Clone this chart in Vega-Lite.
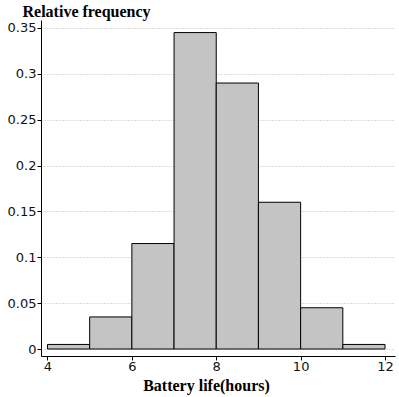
{
  "$schema": "https://vega.github.io/schema/vega-lite/v6.json",
  "autosize": "none",
  "width": 354,
  "height": 336,
  "padding": {"left": 41, "top": 20, "right": 4, "bottom": 41},
  "background": "white",
  "config": {"view": {"stroke": null}},
  "data": {"values": [
    {"start": 4, "end": 5, "freq": 0.005},
    {"start": 5, "end": 6, "freq": 0.035},
    {"start": 6, "end": 7, "freq": 0.115},
    {"start": 7, "end": 8, "freq": 0.345},
    {"start": 8, "end": 9, "freq": 0.29},
    {"start": 9, "end": 10, "freq": 0.16},
    {"start": 10, "end": 11, "freq": 0.045},
    {"start": 11, "end": 12, "freq": 0.005}
  ]},
  "mark": {"type": "bar", "fill": "#c4c4c4", "stroke": "#000000", "strokeWidth": 1},
  "encoding": {
    "x": {
      "field": "start", "type": "quantitative",
      "scale": {"domain": [3.846, 12.237], "nice": false, "zero": false},
      "axis": {
        "values": [4, 6, 8, 10, 12],
        "grid": false,
        "title": "Battery life(hours)",
        "titleFont": "Liberation Serif", "titleFontSize": 16, "titleFontWeight": "bold", "titleColor": "#000",
        "titleAlign": "center", "titleX": 165, "titleY": 34, "titleBaseline": "alphabetic",
        "labelFont": "DejaVu Sans", "labelFontSize": 13, "labelColor": "#111",
        "labelPadding": 0, "tickSize": 4, "tickColor": "#000", "domainColor": "#000"
      }
    },
    "x2": {"field": "end"},
    "y": {
      "field": "freq", "type": "quantitative",
      "scale": {"domain": [-0.0076, 0.3587], "nice": false, "zero": false},
      "axis": {
        "values": [0, 0.05, 0.1, 0.15, 0.2, 0.25, 0.3, 0.35],
        "labelExpr": "datum.value + ''",
        "grid": true, "gridColor": "#bbbbbb", "gridDash": [1, 2], "gridWidth": 1,
        "title": "Relative frequency",
        "titleFont": "Liberation Serif", "titleFontSize": 16, "titleFontWeight": "bold", "titleColor": "#000",
        "titleAngle": 0, "titleAlign": "left", "titleX": -19, "titleY": -4, "titleBaseline": "alphabetic",
        "labelFont": "DejaVu Sans", "labelFontSize": 13, "labelColor": "#111",
        "labelPadding": 1, "tickSize": 4, "tickColor": "#000", "domainColor": "#000"
      }
    },
    "y2": {"datum": 0}
  }
}
